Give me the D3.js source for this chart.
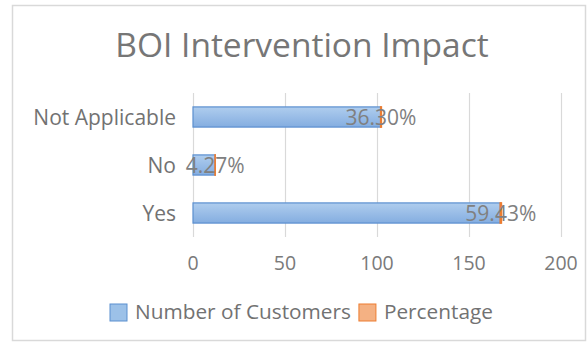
<!DOCTYPE html>
<html>
<head>
<meta charset="utf-8">
<script src="https://cdn.jsdelivr.net/npm/d3@7"></script>
<style>
  html, body { margin: 0; padding: 0; background: #fff; }
  svg { display: block; font-family: "Open Sans", Lato, sans-serif; }
</style>
</head>
<body>
<svg id="chart" width="587" height="343"></svg>
<script>
// Survey answers (top to bottom as drawn)
const categories = ["Not Applicable", "No", "Yes"];
const customers = [102, 12, 167];
const percentages = [0.3630, 0.0427, 0.5943];
const xTicks = [0, 50, 100, 150, 200];
const seriesNames = ["Number of Customers", "Percentage"];

const svg = d3.select("#chart");

const blueStroke = "#5b8fcf";
const orange = "#f4b183", orangeStroke = "#ed7d31";

const defs = svg.append("defs");
const grad = defs.append("linearGradient").attr("id", "barFill")
  .attr("x1", 0).attr("y1", 0).attr("x2", 0).attr("y2", 1);
grad.append("stop").attr("offset", "0%").attr("stop-color", "#afcdee");
grad.append("stop").attr("offset", "100%").attr("stop-color", "#84ade0");

// chart frame
svg.append("rect")
  .attr("x", 12.5).attr("y", 5.5).attr("width", 573).attr("height", 335)
  .attr("fill", "#fff").attr("stroke", "#d9d9d9").attr("stroke-width", 1.5);

// title
svg.append("text")
  .attr("x", 302).attr("y", 57)
  .attr("text-anchor", "middle")
  .attr("font-size", 33.5)
  .attr("fill", "#767676")
  .text("BOI Intervention Impact");

const x = d3.scaleLinear().domain([0, 200]).range([193, 561]);
const y = d3.scaleBand().domain(categories).range([93, 237])
  .paddingInner(0.58).paddingOuter(0.29);

// vertical gridlines
svg.append("g").selectAll("line").data(xTicks).join("line")
  .attr("x1", d => x(d) + 0.5).attr("x2", d => x(d) + 0.5)
  .attr("y1", 93).attr("y2", 237)
  .attr("stroke", "#d9d9d9").attr("stroke-width", 1.2);

// x tick labels
svg.append("g").selectAll("text").data(xTicks).join("text")
  .attr("x", d => x(d)).attr("y", 270)
  .attr("text-anchor", "middle")
  .attr("font-size", 19.5)
  .attr("fill", "#7a7a7a")
  .text(d => d);

// category labels
svg.append("g").selectAll("text").data(categories).join("text")
  .attr("x", 176).attr("y", d => y(d) + y.bandwidth() / 2 + 7.5)
  .attr("text-anchor", "end")
  .attr("font-size", 21)
  .attr("fill", "#727272")
  .text(d => d);

const rows = categories.map((c, i) => ({ cat: c, n: customers[i], p: percentages[i] }));

// customer bars
svg.append("g").selectAll("rect").data(rows).join("rect")
  .attr("x", x(0)).attr("y", d => y(d.cat))
  .attr("width", d => x(d.n) - x(0))
  .attr("height", y.bandwidth())
  .attr("fill", "url(#barFill)")
  .attr("stroke", blueStroke).attr("stroke-width", 1.2);

// percentage bars stacked on the end
svg.append("g").selectAll("rect").data(rows).join("rect")
  .attr("x", d => x(d.n)).attr("y", d => y(d.cat))
  .attr("width", d => Math.max(0.1, x(d.n + d.p) - x(d.n)))
  .attr("height", y.bandwidth())
  .attr("fill", orange)
  .attr("stroke", orangeStroke).attr("stroke-width", 1.6);

// percentage data labels, centred on their segment
svg.append("g").selectAll("text").data(rows).join("text")
  .attr("x", d => x(d.n + d.p / 2)).attr("y", d => y(d.cat) + y.bandwidth() / 2 + 7.5)
  .attr("text-anchor", "middle")
  .attr("font-size", 21)
  .attr("fill", "#808080")
  .text(d => d3.format(".2%")(d.p));

// legend
const legend = svg.append("g");
const items = [
  { name: seriesNames[0], fill: "#9cc1e8", stroke: blueStroke },
  { name: seriesNames[1], fill: orange, stroke: orangeStroke }
];
let lx = 110;
items.forEach(it => {
  legend.append("rect")
    .attr("x", lx).attr("y", 304).attr("width", 17).attr("height", 17)
    .attr("fill", it.fill).attr("stroke", it.stroke).attr("stroke-width", 1);
  const t = legend.append("text")
    .attr("x", lx + 25).attr("y", 319)
    .attr("font-size", 20.8)
    .attr("fill", "#727272")
    .text(it.name);
  lx += 25 + t.node().getComputedTextLength() + 8;
});
</script>
</body>
</html>
